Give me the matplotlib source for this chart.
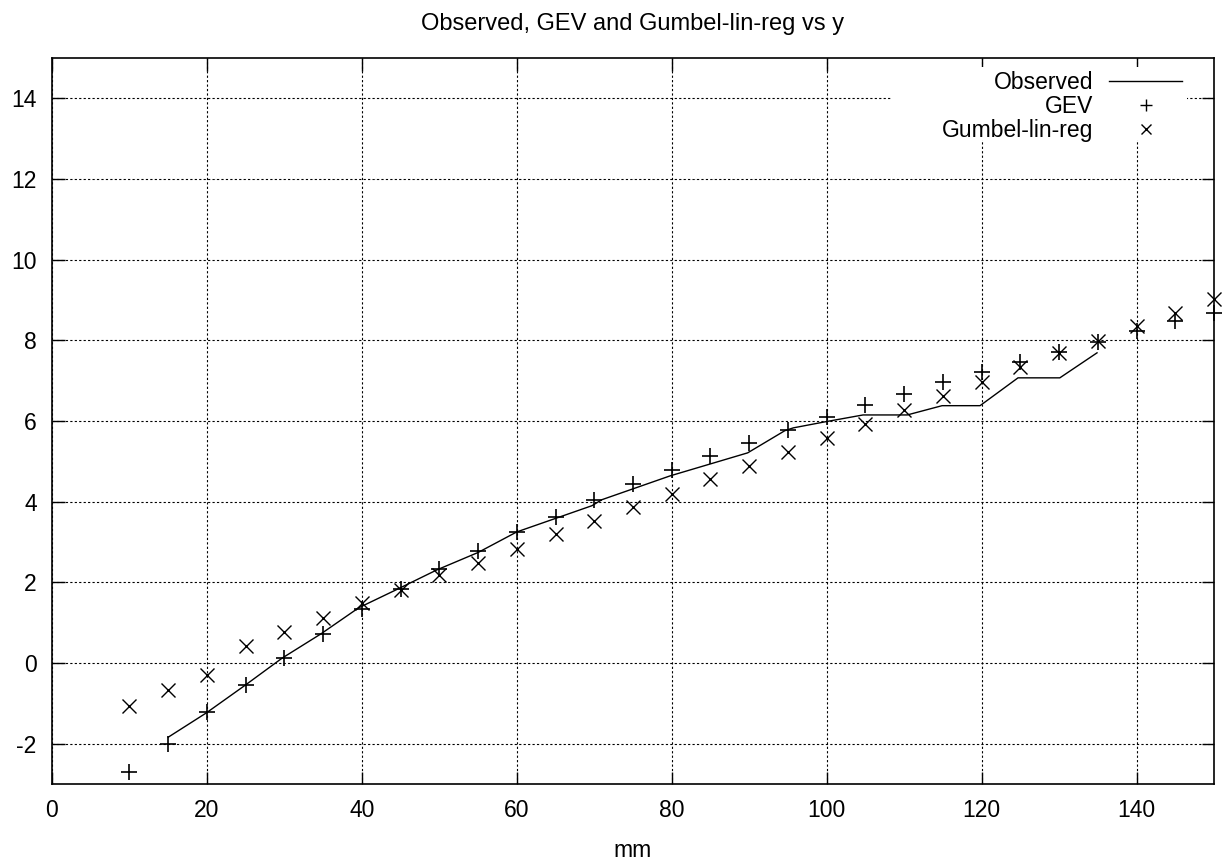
import matplotlib
matplotlib.use("Agg")
import matplotlib.pyplot as plt
from matplotlib.lines import Line2D
from matplotlib.patches import Rectangle

plt.rcParams['font.family'] = ['Liberation Sans', 'DejaVu Sans']
plt.rcParams['axes.unicode_minus'] = False

# Observed line (mm, reduced variate y)
obs_x = [15.0, 19.9, 24.8, 29.7, 34.7, 39.6, 44.7, 49.7, 55.0, 60.0, 69.7, 71.0,
         79.8, 89.8, 94.6, 95.7, 99.8, 104.7, 110.4, 114.9, 119.8, 124.7, 130.1, 134.9]
obs_y = [-1.84, -1.24, -0.57, 0.12, 0.72, 1.37, 1.84, 2.31, 2.74, 3.25, 3.90, 4.05,
         4.64, 5.21, 5.76, 5.83, 5.98, 6.15, 6.15, 6.38, 6.38, 7.07, 7.07, 7.69]

# Model points
mm = [10, 15, 20, 25, 30, 35, 40, 45, 50, 55, 60, 65, 70, 75, 80, 85, 90, 95, 100,
      105, 110, 115, 120, 125, 130, 135, 140, 145, 150]
gev_y = [-2.70, -2.01, -1.22, -0.55, 0.12, 0.72, 1.34, 1.84, 2.33, 2.78, 3.25, 3.63,
         4.05, 4.43, 4.79, 5.12, 5.46, 5.77, 6.10, 6.40, 6.68, 6.96, 7.22, 7.47,
         7.72, 7.97, 8.24, 8.49, 8.69]
gum_y = [-1.07, -0.67, -0.30, 0.42, 0.77, 1.12, 1.49, 1.81, 2.18, 2.48, 2.83, 3.20,
         3.52, 3.87, 4.19, 4.57, 4.89, 5.24, 5.58, 5.93, 6.28, 6.63, 6.97, 7.35,
         7.69, 7.99, 8.36, 8.69, 9.03]

x_ticks = list(range(0, 151, 20))
y_ticks = list(range(-2, 15, 2))

FS = 16.5
W, H = 1224, 861

fig = plt.figure(figsize=(12.24, 8.61), dpi=100)
ax = fig.add_axes([52/W, 1-784/H, (1214-52)/W, (784-58)/H])

ax.plot(obs_x, obs_y, color='black', lw=1.0, label='Observed', zorder=3)
ax.plot(mm, gev_y, linestyle='none', marker='+', ms=11, mew=1.2, color='black',
        label='GEV', zorder=3, clip_on=False)
ax.plot(mm, gum_y, linestyle='none', marker='x', ms=10.5, mew=1.0, color='black',
        label='Gumbel-lin-reg', zorder=3, clip_on=False)

ax.set_xlim(0, 150)
ax.set_ylim(-3, 15)
ax.set_xticks(x_ticks)
ax.set_yticks(y_ticks)
ax.grid(True, color='black', linestyle=(0, (2, 2)), lw=0.8)
ax.tick_params(direction='in', length=9, width=1, top=True, right=True,
               labelsize=FS, pad=11)
for s in ax.spines.values():
    s.set_linewidth(1.2)

# white key area hiding the grid behind the legend
ax.add_patch(Rectangle((892/W, 1-140/H), (1187-892)/W, (140-67)/H,
                       transform=fig.transFigure, facecolor='white',
                       edgecolor='none', zorder=2.5))

ax.set_xlabel('mm', fontsize=FS, labelpad=12)
fig.suptitle('Observed, GEV and Gumbel-lin-reg vs y', fontsize=17,
             x=633/W, y=1-24/H, va='center')

handles = [Line2D([], [], color='black', lw=1.0),
           Line2D([], [], linestyle='none', marker='+', ms=9, mew=1.0, color='black'),
           Line2D([], [], linestyle='none', marker='x', ms=7, mew=1.0, color='black')]
leg = fig.legend(handles, ['Observed', 'GEV', 'Gumbel-lin-reg'], loc='upper right',
                 bbox_to_anchor=(1187/W, 1-66/H), bbox_transform=fig.transFigure,
                 borderaxespad=0, frameon=False, fontsize=FS, markerfirst=False,
                 handlelength=3.2, labelspacing=0.05, borderpad=0.2,
                 handletextpad=0.7)
for t in leg.get_texts():
    t.set_ha('right')
leg._legend_box.align = 'right'

fig.savefig('out.png', dpi=100)
